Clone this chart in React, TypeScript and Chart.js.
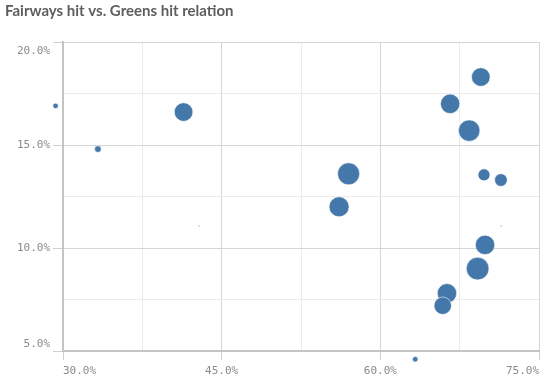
import { useEffect, useRef } from 'react';
import { Chart, registerables } from 'chart.js';
Chart.register(...registerables);

const titleText = 'Fairways hit vs. Greens hit relation';
// Fairways hit (%)
const fairwaysHit = [29.3, 33.3, 41.4, 57.0, 56.1, 66.6, 69.5, 68.4, 69.8, 71.4, 69.9, 69.2, 66.3, 65.9, 63.3];
// Greens hit relation (%)
const greensHit = [16.9, 14.8, 16.6, 13.6, 12.0, 17.0, 18.3, 15.7, 13.55, 13.3, 10.15, 9.0, 7.8, 7.2, 4.6];
// bubble sizes
const bubbleSizes = [2.7, 3.3, 9.3, 11, 10, 9.7, 9.3, 10.7, 6, 6.3, 9.7, 11.3, 9.7, 8.7, 2.7];
// faint near-zero points
const faintX = [42.85, 71.43];
const faintY = [11.07, 11.07];

const xMin = 30, xMax = 75, xStep = 7.5, xMajor = 15;
const yMin = 5, yMax = 20, yStep = 2.5, yMajor = 5;

const isMajor = (v: number, m: number) => Math.abs(v / m - Math.round(v / m)) < 1e-6;
const fmt = (v: number) => Number(v).toFixed(1) + '%';

const tickColor = '#8a8a8a';
const tickFontFamily = 'DejaVu Sans Mono';
const tickFontSize = 11;

// Let points outside the axis range be drawn (the reference shows them beyond the axes)
const unclipPlugin = {
  id: 'unclip',
  beforeDatasetsDraw(chart: any) {
    chart.$savedArea = chart.chartArea;
    chart.chartArea = { left: 0, top: 0, right: chart.width, bottom: chart.height, width: chart.width, height: chart.height };
  },
  afterDatasetsDraw(chart: any) {
    if (chart.$savedArea) chart.chartArea = chart.$savedArea;
  },
};

// Y tick labels with "inner" alignment (first/last label kept inside the axis)
const yLabelsPlugin = {
  id: 'yLabels',
  afterDraw(chart: any) {
    const y = chart.scales.y;
    const ctx = chart.ctx;
    ctx.save();
    ctx.fillStyle = tickColor;
    ctx.font = `${tickFontSize}px "${tickFontFamily}"`;
    ctx.textAlign = 'right';
    y.ticks.forEach((t: any) => {
      if (!isMajor(t.value, yMajor)) return;
      const p = y.getPixelForValue(t.value);
      let base: CanvasTextBaseline = 'middle';
      let py = p;
      if (t.value === yMax) { base = 'top'; py = p + 4; }
      else if (t.value === yMin) { base = 'bottom'; py = p - 1; }
      ctx.textBaseline = base;
      ctx.fillText(fmt(t.value), y.right - 13, py);
    });
    ctx.restore();
  },
};

export default function App() {
  const ref = useRef<HTMLCanvasElement>(null);
  useEffect(() => {
    const tickFont = { family: tickFontFamily, size: tickFontSize };
    const chart = new Chart(ref.current!, {
      type: 'bubble',
      data: {
        datasets: [
          {
            data: fairwaysHit.map((x, i) => ({ x, y: greensHit[i], r: bubbleSizes[i] })),
            backgroundColor: '#4477aa',
            borderColor: 'rgba(255,255,255,0.55)',
            borderWidth: 1,
            clip: false as any,
          },
          {
            data: faintX.map((x, i) => ({ x, y: faintY[i], r: 1 })),
            backgroundColor: '#d4d4d4',
            borderWidth: 0,
            clip: false as any,
          },
        ],
      },
      plugins: [unclipPlugin, yLabelsPlugin],
      options: {
        animation: false,
        responsive: true,
        maintainAspectRatio: false,
        layout: { padding: { left: 5, right: 14, top: 0, bottom: 0 } },
        plugins: {
          legend: { display: false },
          tooltip: { enabled: false },
          title: {
            display: true,
            text: titleText,
            align: 'start',
            color: '#5e5e5e',
            font: { family: 'Lato', size: 15, weight: 'bold' },
            padding: { top: 2, bottom: 22 },
          },
        },
        scales: {
          x: {
            type: 'linear',
            min: xMin,
            max: xMax,
            afterFit: (s: any) => { s.height = 32; },
            ticks: {
              stepSize: xStep,
              autoSkip: false,
              maxRotation: 0,
              align: 'inner',
              padding: 5,
              color: tickColor,
              font: tickFont,
              callback: (v: any) => (isMajor(v, xMajor) ? fmt(v) : ''),
            },
            grid: {
              color: (c: any) => (isMajor(c.tick.value, xMajor) ? '#d6d6d6' : '#ebebeb'),
              tickColor: (c: any) => (isMajor(c.tick.value, xMajor) ? '#d0d0d0' : 'rgba(0,0,0,0)'),
              tickLength: 9,
            },
            border: { color: '#c4c4c4', width: 2 },
          },
          y: {
            type: 'linear',
            min: yMin,
            max: yMax,
            afterFit: (s: any) => { s.width = 58; },
            ticks: {
              stepSize: yStep,
              autoSkip: false,
              padding: 3,
              color: 'rgba(0,0,0,0)',
              font: tickFont,
              callback: (v: any) => (isMajor(v, yMajor) ? fmt(v) : ''),
            },
            grid: {
              color: (c: any) => (isMajor(c.tick.value, yMajor) ? '#d6d6d6' : '#ebebeb'),
              tickColor: (c: any) => (isMajor(c.tick.value, yMajor) ? '#d0d0d0' : 'rgba(0,0,0,0)'),
              tickLength: 10,
            },
            border: { color: '#c4c4c4', width: 2 },
          },
        },
      },
    });
    return () => chart.destroy();
  }, []);
  return (
    <div style={{ position: 'fixed', left: 0, top: 0, width: 553, height: 383, background: '#fff' }}>
      <canvas ref={ref} />
    </div>
  );
}
